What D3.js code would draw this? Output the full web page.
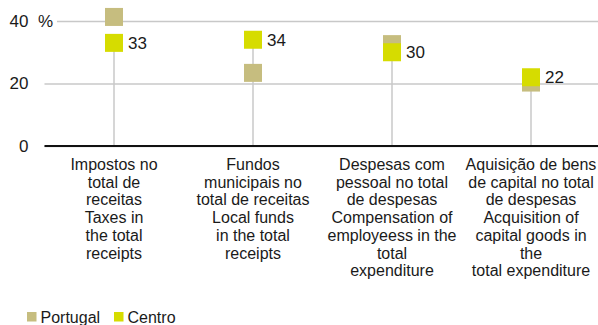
<!DOCTYPE html>
<html>
<head>
<meta charset="utf-8">
<script src="https://cdn.jsdelivr.net/npm/d3@7"></script>
<style>
  html, body { margin: 0; padding: 0; background: #fff; }
  svg { display: block; font-family: "Liberation Sans", Arial, sans-serif; }
</style>
</head>
<body>
<svg id="chart" width="598" height="325"></svg>
<script>
// Indicator categories, each label split into its display lines
const categories = ["impostos", "fundos", "pessoal", "capital"];
const categoryLines = [
  ["Impostos no", "total de", "receitas", "Taxes in", "the total", "receipts"],
  ["Fundos", "municipais no", "total de receitas", "Local funds", "in the total", "receipts"],
  ["Despesas com", "pessoal no total", "de despesas", "Compensation of", "employeess in the", "total", "expenditure"],
  ["Aquisição de bens", "de capital no total", "de despesas", "Acquisition of", "capital goods in", "the", "total expenditure"]
];
const seriesNames = ["Portugal", "Centro"];
const portugalValues = [41.3, 23.4, 32.6, 20.3];
const centroValues = [33, 34, 30, 22];
const yTicks = [0, 20, 40];

const colors = { Portugal: "#c6bd7f", Centro: "#d6dc00" };
const textColor = "#1a1a1a";

const svg = d3.select("#chart");
const x = d3.scaleBand().domain(categories).range([44.5, 600.5]);
const y = d3.scaleLinear().domain([0, 40]).range([146, 21]);
const cx = c => x(c) + x.bandwidth() / 2;

// Horizontal gridlines
const yAxis = d3.axisLeft(y).tickValues(yTicks).tickSize(-(598 - 44.5)).tickPadding(16).tickFormat(d3.format("d"));
const gAxis = svg.append("g").attr("transform", "translate(44.5,0)").call(yAxis);
gAxis.select(".domain").remove();
gAxis.selectAll(".tick line").attr("stroke", "#c8c8c8").attr("stroke-width", 1.5);
gAxis.selectAll(".tick text")
  .attr("fill", textColor).attr("font-size", 17)
  .attr("font-family", "Liberation Sans, Arial, sans-serif");

// Unit label above the axis
svg.append("rect").attr("x", 33).attr("y", 12).attr("width", 24).attr("height", 18).attr("fill", "#fff");
svg.append("text").attr("x", 38).attr("y", y(40)).attr("dy", "0.35em")
  .attr("font-size", 17).attr("fill", textColor).text("%");

// Drop lines from the baseline up to the Centro values
svg.append("g").selectAll("line").data(categories).join("line")
  .attr("x1", d => cx(d)).attr("x2", d => cx(d))
  .attr("y1", y(0)).attr("y2", (d, i) => y(centroValues[i]))
  .attr("stroke", "#c8c8c8").attr("stroke-width", 1.5);

// Baseline
svg.append("line").attr("x1", 44.5).attr("x2", 598).attr("y1", y(0)).attr("y2", y(0))
  .attr("stroke", "#111").attr("stroke-width", 2);

// Square markers
const size = 18;
function drawMarkers(values, color) {
  svg.append("g").selectAll("rect").data(categories).join("rect")
    .attr("x", d => cx(d) - size / 2)
    .attr("y", (d, i) => y(values[i]) - size / 2)
    .attr("width", size).attr("height", size)
    .attr("fill", color);
}
drawMarkers(portugalValues, colors.Portugal);
drawMarkers(centroValues, colors.Centro);

// Centro value labels
svg.append("g").selectAll("text").data(categories).join("text")
  .attr("x", d => cx(d) + size / 2 + 5)
  .attr("y", (d, i) => y(centroValues[i]))
  .attr("dy", "0.35em")
  .attr("font-size", 17).attr("fill", textColor)
  .text((d, i) => d3.format("d")(centroValues[i]));

// Category labels
const labels = svg.append("g").selectAll("text").data(categories).join("text")
  .attr("x", d => cx(d))
  .attr("y", 170)
  .attr("text-anchor", "middle")
  .attr("font-size", 16).attr("fill", textColor);
labels.selectAll("tspan").data((d, i) => categoryLines[i]).join("tspan")
  .attr("x", function() { return this.parentNode.getAttribute("x"); })
  .attr("dy", (d, i) => i === 0 ? 0 : 17.7)
  .text(d => d);

// Legend
const legendX = [27, 114];
const legend = svg.append("g").selectAll("g").data(seriesNames).join("g")
  .attr("transform", (d, i) => `translate(${legendX[i]},312)`);
legend.append("rect").attr("width", 9.5).attr("height", 9.5).attr("fill", d => colors[d]);
legend.append("text").attr("x", 13.5).attr("y", 10.5)
  .attr("font-size", 16).attr("fill", textColor).text(d => d);
</script>
</body>
</html>
